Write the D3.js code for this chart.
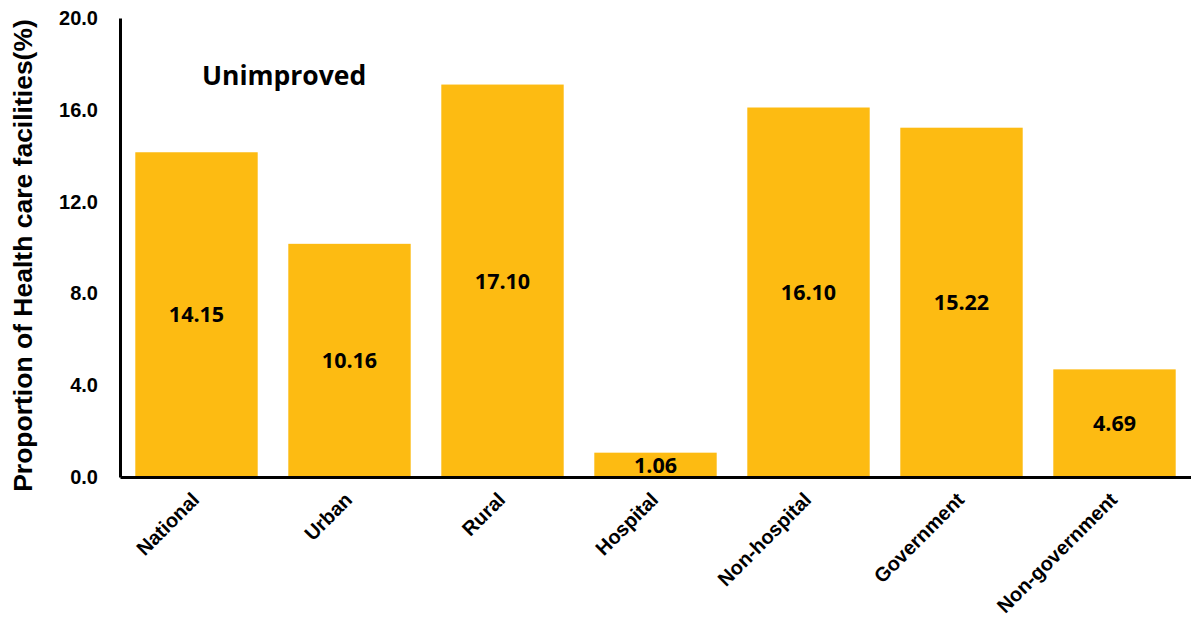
<!DOCTYPE html>
<html><head><meta charset="utf-8">
<script src="https://cdn.jsdelivr.net/npm/d3@7"></script>
<style>body{margin:0;background:#fff;}svg{display:block;}</style>
</head><body>
<svg id="chart" width="1191" height="634"></svg>
<script>
const categories = ["National","Urban","Rural","Hospital","Non-hospital","Government","Non-government"];
const values = [14.15, 10.16, 17.10, 1.06, 16.10, 15.22, 4.69];
const yTicks = [0, 4, 8, 12, 16, 20];
const chartTitle = "Unimproved";
const yTitle = "Proportion of Health care facilities(%)";

const svg = d3.select("#chart");
const mLeft = 120, mRight = 1191, mTop = 18, mBottom = 477;
const x = d3.scaleBand().domain(categories).range([mLeft, mRight]).paddingInner(0.2).paddingOuter(0.1);
const y = d3.scaleLinear().domain([0, 20]).range([mBottom, mTop]);

svg.selectAll("rect.bar").data(values).enter().append("rect")
  .attr("class","bar")
  .attr("x",(d,i)=>x(categories[i]))
  .attr("width",x.bandwidth())
  .attr("y",d=>y(d))
  .attr("height",d=>mBottom-y(d))
  .attr("fill","#FDBB12");

svg.selectAll("text.val").data(values).enter().append("text")
  .attr("x",(d,i)=>x(categories[i])+x.bandwidth()/2)
  .attr("y",d=>(y(d)+mBottom)/2)
  .attr("dy","0.36em")
  .attr("text-anchor","middle")
  .style("font-family","'Open Sans', sans-serif")
  .style("font-weight","bold").style("font-size","21.5px")
  .text(d=>d.toFixed(2));

const ya = svg.append("g").attr("transform",`translate(${mLeft},0)`)
  .call(d3.axisLeft(y).tickValues(yTicks).tickSize(0).tickPadding(22).tickFormat(d3.format(".1f")));
ya.select(".domain").attr("stroke","#000").attr("stroke-width",3);
ya.selectAll("text").style("font-family","'Liberation Sans', Arial, sans-serif")
  .style("font-weight","bold").style("font-size","20px").attr("fill","#000");

const xa = svg.append("g").attr("transform",`translate(0,${mBottom})`)
  .call(d3.axisBottom(x).tickSize(0).tickPadding(0));
xa.select(".domain").attr("stroke","#000").attr("stroke-width",3);
xa.selectAll("text").style("font-family","'Liberation Sans', Arial, sans-serif")
  .style("font-weight","bold").style("font-size","20px").attr("fill","#000")
  .attr("text-anchor","end").attr("dy","0")
  .attr("transform","translate(4,24) rotate(-45)");

svg.append("text").attr("x",202).attr("y",85)
  .style("font-family","'Open Sans', sans-serif").style("font-weight","bold").style("font-size","26.5px")
  .text(chartTitle);

svg.append("text").attr("transform",`translate(32,255.5) rotate(-90)`)
  .attr("text-anchor","middle")
  .style("font-family","'Liberation Sans', Arial, sans-serif").style("font-weight","bold").style("font-size","26.5px")
  .text(yTitle);
</script>
</body></html>
